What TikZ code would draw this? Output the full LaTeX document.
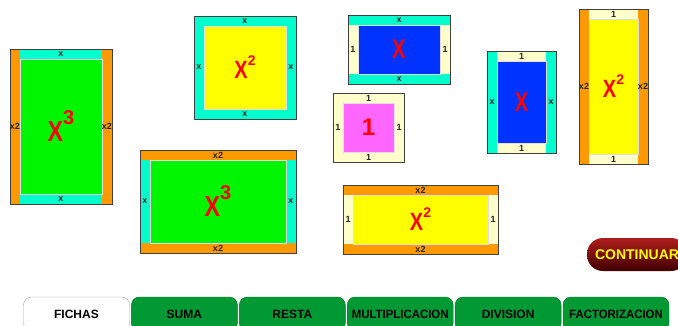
\documentclass[tikz,border=0pt]{standalone}
\usepackage{fontspec}
\setmainfont{Liberation Sans}
\usetikzlibrary{positioning, calc}
\definecolor{verde}{RGB}{0, 245, 0}
\definecolor{cian}{RGB}{0, 255, 204}
\definecolor{naranja}{RGB}{255, 153, 0}
\definecolor{amarillo}{RGB}{255, 255, 0}
\definecolor{azul}{RGB}{0, 51, 255}
\definecolor{rosa}{RGB}{255, 102, 255}
\definecolor{crema}{RGB}{255, 255, 204}
\definecolor{rojo}{RGB}{255, 0, 0}
\definecolor{tabverde}{RGB}{0, 153, 51}
\definecolor{tabborde}{RGB}{0, 110, 40}
\definecolor{botonclaro}{RGB}{175, 30, 30}
\definecolor{botonmedio}{RGB}{125, 0, 0}
\definecolor{botonoscuro}{RGB}{65, 0, 0}
\def\tira{10}
\tikzset{
  ficha/.style={inner sep=0pt, outer sep=0pt},
  interior/.style={inner sep=0pt, outer sep=0pt, draw=black!12, line width=0.5pt, text=rojo},
  borde/.style={draw=black!75, line width=0.8pt},
  lbl/.style={inner sep=0pt, font=\fontsize{9}{9}\selectfont\bfseries, text=black!85},
  tab/.style={draw=tabborde, fill=tabverde, rounded corners=8pt, minimum width=106pt, minimum height=34pt, inner sep=0pt, font=\fontsize{12}{12}\selectfont\bfseries},
  boton/.style={rounded corners=16pt, minimum width=100pt, minimum height=33pt, top color=botonclaro, middle color=botonmedio, bottom color=botonoscuro, text=amarillo, font=\fontsize{14}{14}\selectfont\bfseries}
}
% big power label: size, sup size, raise, exponent
\newcommand{\grande}[4]{{\bfseries\fontsize{#1}{#1}\selectfont\scalebox{0.8}[1]{X}\raisebox{#3pt}{\fontsize{#2}{#2}\selectfont #4}}}
\newcommand{\equis}[1]{{\bfseries\fontsize{#1}{#1}\selectfont\scalebox{0.75}[1]{X}}}
% tile with long strips on the sides
\newcommand{\fichaV}[8]{%
  \node[ficha, minimum width=#3, minimum height=#4, fill=#5] (#1) at (#2) {};
  \fill[#6] ([xshift=\tira]#1.north west) rectangle ([xshift=-\tira]#1.south east);
  \node[interior, minimum width=#3-2*\tira, minimum height=#4-2*\tira, fill=#7] (#1-in) at (#1) {#8};
  \draw[borde] (#1.north west) rectangle (#1.south east);
}
% tile with long strips on top and bottom
\newcommand{\fichaH}[8]{%
  \node[ficha, minimum width=#3, minimum height=#4, fill=#5] (#1) at (#2) {};
  \fill[#6] ([yshift=-\tira]#1.north west) rectangle ([yshift=\tira]#1.south east);
  \node[interior, minimum width=#3-2*\tira, minimum height=#4-2*\tira, fill=#7] (#1-in) at (#1) {#8};
  \draw[borde] (#1.north west) rectangle (#1.south east);
}
% side labels: top/bottom, left/right
\newcommand{\rotulos}[3]{%
  \node[lbl] (#1-n) at ($(#1.north)!.5!(#1-in.north)$) {#2};
  \node[lbl] (#1-s) at ($(#1.south)!.5!(#1-in.south)$) {#2};
  \node[lbl] (#1-w) at ($(#1.west)!.5!(#1-in.west)$) {#3};
  \node[lbl] (#1-e) at ($(#1.east)!.5!(#1-in.east)$) {#3};
}
\begin{document}
\begin{tikzpicture}[x=1pt, y=-1pt]
\useasboundingbox (0,0) rectangle (678,326);
\clip (0,0) rectangle (678,326);
\fill[white] (0,0) rectangle (678,326);

% fichas
\fichaV{cuboA}{61,126.5}{102}{155}{naranja}{cian}{verde}{\grande{29}{20}{17}{3}}
\rotulos{cuboA}{x}{x2}
\fichaV{cuadB}{245,67.5}{102}{103}{cian}{cian}{amarillo}{\grande{25}{14}{13}{2}}
\rotulos{cuadB}{x}{x}
\fichaH{cuboC}{218,201.5}{156}{103}{naranja}{cian}{verde}{\grande{29}{20}{17}{3}}
\rotulos{cuboC}{x2}{x}
\fichaH{linD}{399,49.5}{102}{69}{cian}{crema}{azul}{\equis{27}}
\rotulos{linD}{x}{1}
\fichaV{unoE}{368.5,127.5}{71}{69}{crema}{crema}{rosa}{\fontsize{24}{24}\selectfont\bfseries 1}
\rotulos{unoE}{1}{1}
\fichaV{linF}{521.5,102}{69}{102}{cian}{crema}{azul}{\equis{27}}
\rotulos{linF}{1}{x}
\fichaV{cuadG}{613.5,86.5}{69}{155}{naranja}{crema}{amarillo}{\grande{25}{14}{13}{2}}
\rotulos{cuadG}{1}{x2}
\fichaH{cuadH}{420.5,219.5}{155}{69}{naranja}{crema}{amarillo}{\grande{25}{14}{13}{2}}
\rotulos{cuadH}{x2}{1}

% boton
\node[boton] (continuar) at (637,254.5) {CONTINUAR};

% pestanas
\node[tab, fill=white, draw=black!35] (fichas) at (76.5,314) {FICHAS};
\node[tab, right=1.5pt of fichas] (suma) {SUMA};
\node[tab, right=1.5pt of suma] (resta) {RESTA};
\node[tab, right=1.5pt of resta] (multi) {\scalebox{0.95}[1]{MULTIPLICACION}};
\node[tab, right=1.5pt of multi] (divi) {DIVISION};
\node[tab, right=1.5pt of divi] (facto) {\scalebox{0.95}[1]{FACTORIZACION}};
\end{tikzpicture}
\end{document}
